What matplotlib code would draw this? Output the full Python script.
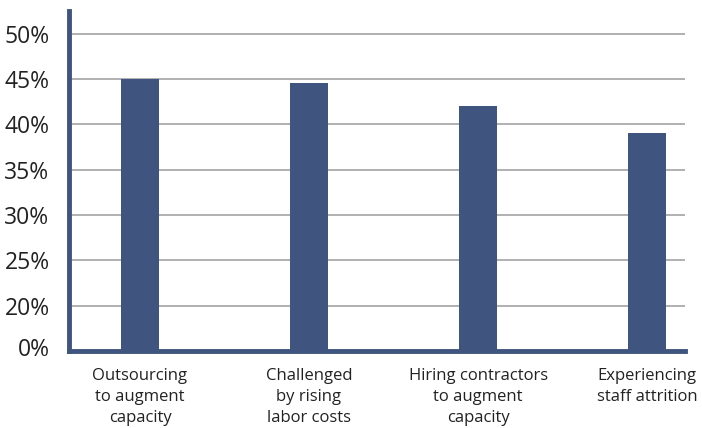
import matplotlib.pyplot as plt
import matplotlib.transforms as mtransforms

# Survey responses (share of respondents, %)
categories = [
    "Outsourcing\nto augment\ncapacity",
    "Challenged\nby rising\nlabor costs",
    "Hiring contractors\nto augment\ncapacity",
    "Experiencing\nstaff attrition",
]
values = [45.0, 44.6, 42.0, 39.0]

# axis is cut at 15%, lowest tick is shown as 0%
yticks = [15, 20, 25, 30, 35, 40, 45, 50]
ytick_labels = ["0%", "20%", "25%", "30%", "35%", "40%", "45%", "50%"]

bar_color = "#3f557f"

plt.rcParams['font.family'] = ['Open Sans', 'DejaVu Sans']

fig = plt.figure(figsize=(7.02, 4.28), dpi=100)
ax = fig.add_axes([0.0983, 0.180, 0.8777, 0.794])

x = range(len(categories))
ax.bar(x, [v - 15 for v in values], bottom=15, width=0.225, color=bar_color, zorder=3)

ax.set_xlim(-0.42, 3.225)
ax.set_ylim(15, 52.5)
ax.set_yticks(yticks)
ax.set_yticklabels(ytick_labels, fontsize=16.5, color="#222222")
ax.set_xticks(list(x))
ax.set_xticklabels(categories, fontsize=12, color="#222222", linespacing=1.45)
ax.tick_params(axis='x', length=0, pad=12)
ax.tick_params(axis='y', length=0, pad=14)

# lift the bottom "0%" label a little off the axis line
lbl0 = ax.get_yticklabels()[0]
lbl0.set_transform(lbl0.get_transform() + mtransforms.ScaledTranslation(0, 4 / 100, fig.dpi_scale_trans))

ax.yaxis.grid(True, color="#b0b0b0", linewidth=1.4, zorder=0)
ax.spines['top'].set_visible(False)
ax.spines['right'].set_visible(False)
for s in ('left', 'bottom'):
    ax.spines[s].set_color(bar_color)
    ax.spines[s].set_linewidth(3.5)
    ax.spines[s].set_zorder(4)

fig.savefig("out.png", dpi=100)
